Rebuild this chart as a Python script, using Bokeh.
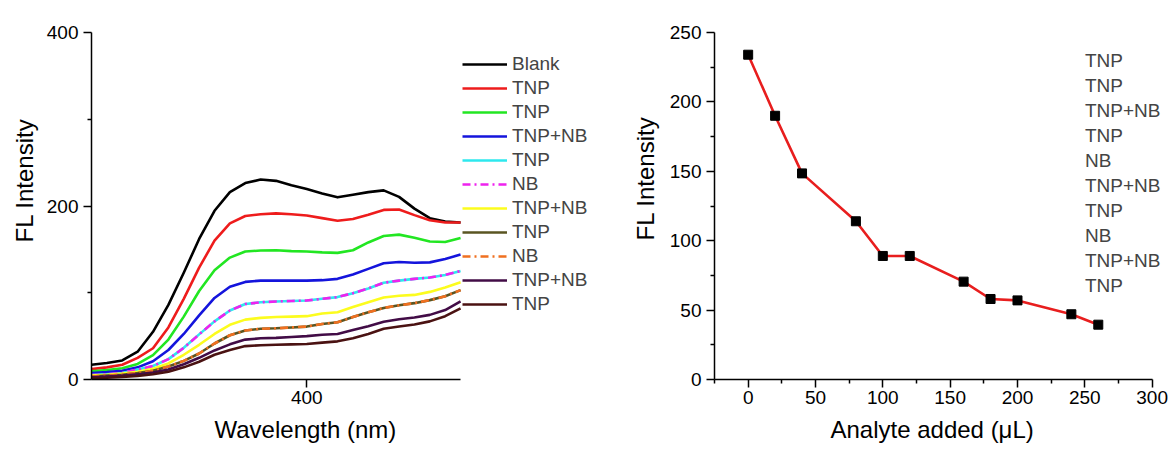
from bokeh.plotting import figure
from bokeh.models import Range1d, FixedTicker, Legend, LegendItem, Title
from bokeh.layouts import row
from bokeh.embed import file_html
from bokeh.resources import INLINE

# ---------------- data: left panel (spectra) ----------------
wavelength = [330, 335, 340, 345, 350, 355, 360, 365, 370, 375, 380, 385, 390,
              395, 400, 405, 410, 415, 420, 425, 430, 435, 440, 445, 450]
blank = [17, 19, 22, 32, 55, 86, 123, 162, 194.5, 216, 226.5, 230.5, 229, 224, 219.5,
         214.5, 210, 213, 216, 218, 210.5, 197, 186, 182, 181]
tnp_1 = [12, 14, 17, 25, 36, 60, 93, 129, 160, 180, 188.5, 190.5, 191.5, 190.5, 189,
         186, 183, 185, 190, 195.5, 196, 189.5, 183.5, 181, 181]
tnp_2 = [9.5, 11, 13, 18, 28, 46, 72.5, 102, 126, 140.5, 147.5, 148.7, 149, 148, 147.5,
         146.5, 146, 149, 158, 165.5, 167, 163.5, 159, 158.5, 163]
tnp_nb_1 = [7.5, 8.5, 10, 14, 21, 34, 52.5, 74, 94, 107, 112.5, 114, 114, 114, 114,
            114.5, 116, 121, 127.5, 134, 135.5, 134.5, 135, 139, 144]
tnp_3 = [5, 6, 7.5, 11.5, 15.5, 23.5, 36.5, 52, 67, 79.5, 87, 89, 90, 90.5, 91,
         93, 95, 99.5, 105, 111.5, 114, 116, 117.5, 120.5, 125]
nb_1 = [5, 6, 7.5, 11.5, 15.5, 23.5, 36.5, 52, 67, 79.5, 87, 89, 90, 90.5, 91,
        93, 95, 99.5, 105, 111.5, 114, 116, 117.5, 120.5, 125]
tnp_nb_2 = [4.5, 5.5, 7, 9, 12.5, 18.5, 28.5, 40, 52.5, 63, 69, 71, 72, 72.5, 73,
            76, 77.5, 83.5, 89, 94.5, 96.5, 97.5, 101, 106, 112]
tnp_4 = [3.5, 4.5, 5.5, 7.5, 10, 15, 21.5, 30, 41.5, 51, 56.5, 58.5, 59, 60, 61,
         64, 66, 72, 77.5, 82.5, 85.5, 88, 91.5, 96, 103]
nb_2 = [3.5, 4.5, 5.5, 7.5, 10, 15, 21.5, 30, 41.5, 51, 56.5, 58.5, 59, 60, 61,
        64, 66, 72, 77.5, 82.5, 85.5, 88, 91.5, 96, 103]
tnp_nb_3 = [2.5, 3.5, 4.5, 6, 8, 11.5, 17.5, 25, 33.5, 40.5, 46, 47.5, 48, 49, 50,
            51.5, 52.5, 57, 61.5, 66.5, 69.5, 71.5, 74.5, 80, 90]
tnp_5 = [1.5, 2, 3, 4, 6, 9, 14, 20.5, 28.5, 34, 38.5, 39.5, 40, 40.5, 41,
         42.5, 44, 47.5, 52.5, 58.5, 61, 63.5, 67, 73, 82]

spectra = [blank, tnp_1, tnp_2, tnp_nb_1, tnp_3, nb_1, tnp_nb_2, tnp_4, nb_2, tnp_nb_3, tnp_5]
spectra_labels = ["Blank", "TNP", "TNP", "TNP+NB", "TNP", "NB", "TNP+NB", "TNP", "NB", "TNP+NB", "TNP"]
spectra_colors = ["#000000", "#ee1c1c", "#22e622", "#1414dc", "#2ee8ee", "#ee22ee",
                  "#fcfc1e", "#5a5522", "#f07020", "#420c46", "#4a1212"]
spectra_dash = ["solid", "solid", "solid", "solid", "solid", "8 4 2 4",
                "solid", "solid", "8 4 2 4", "solid", "solid"]

# ---------------- data: right panel ----------------
analyte_added = [0, 20, 40, 80, 100, 120, 160, 180, 200, 240, 260]
fl_intensity = [234, 190, 148.5, 114, 89, 89, 70.5, 58, 57, 47, 39.5]
right_labels = ["TNP", "TNP", "TNP+NB", "TNP", "NB", "TNP+NB", "TNP", "NB", "TNP+NB", "TNP"]

FONT = "Liberation Sans"


def style_axes(p):
    p.outline_line_color = None
    p.grid.visible = False
    p.background_fill_color = "white"
    p.border_fill_color = "white"
    for ax in p.axis:
        ax.axis_line_width = 1.5
        ax.axis_line_color = "black"
        ax.major_tick_line_width = 1.5
        ax.minor_tick_line_width = 1.5
        ax.major_tick_in = 0
        ax.major_tick_out = 8
        ax.minor_tick_in = 0
        ax.minor_tick_out = 4
        ax.major_label_text_font = FONT
        ax.major_label_text_font_size = "19px"
        ax.major_label_text_color = "black"
    p.xaxis.major_label_standoff = 3
    p.yaxis.major_label_standoff = 5


def axis_title(text, offset, standoff):
    return Title(text=text, align="left", offset=offset, text_font=FONT,
                 text_font_size="24px", text_font_style="normal", text_color="black",
                 standoff=standoff)


# ---------------- left figure ----------------
p1 = figure(width=600, height=450, output_backend="svg", toolbar_location=None,
            x_range=Range1d(330, 495.5), y_range=Range1d(0, 400),
            min_border_left=91, min_border_right=0, min_border_top=32, min_border_bottom=71)
style_axes(p1)
p1.xaxis.ticker = FixedTicker(ticks=[400], minor_ticks=[])
p1.xaxis.bounds = (330, 450)
p1.yaxis.ticker = FixedTicker(ticks=[0, 200, 400], minor_ticks=[100, 300])

renderers = []
for ys, col, dash in zip(spectra, spectra_colors, spectra_dash):
    r = p1.line(wavelength, ys, line_color=col, line_width=2.6, line_dash=dash,
                line_join="round")
    renderers.append(r)

leg1 = Legend(items=[LegendItem(label=l, renderers=[r]) for l, r in zip(spectra_labels, renderers)],
              location=(371, 64), glyph_width=45, glyph_height=22, label_height=22,
              spacing=2, padding=4, margin=0, label_standoff=5,
              label_text_font=FONT, label_text_font_size="19px",
              border_line_color=None, background_fill_alpha=0)
p1.add_layout(leg1)
p1.add_layout(axis_title("Wavelength (nm)", 123, 15), "below")
p1.add_layout(axis_title("FL Intensity", 137, 11), "left")

# ---------------- right figure ----------------
p2 = figure(width=574, height=450, output_backend="svg", toolbar_location=None,
            x_range=Range1d(-25, 316.6), y_range=Range1d(0, 250),
            min_border_left=114, min_border_right=0, min_border_top=24, min_border_bottom=71)
style_axes(p2)
p2.xaxis.ticker = FixedTicker(ticks=[0, 50, 100, 150, 200, 250, 300],
                              minor_ticks=[-25, 25, 75, 125, 175, 225, 275])
p2.xaxis.bounds = (-25, 300)
p2.yaxis.ticker = FixedTicker(ticks=[0, 50, 100, 150, 200, 250],
                              minor_ticks=[25, 75, 125, 175, 225])

p2.line(analyte_added, fl_intensity, line_color="#e81e1e", line_width=2.6, line_join="round")
p2.scatter(analyte_added, fl_intensity, marker="square", size=9, fill_color="black",
           line_color="black")
dummy = p2.line(x=[0], y=[0], line_alpha=0)

leg2 = Legend(items=[LegendItem(label=l, renderers=[dummy]) for l in right_labels],
              location=(371, 82), glyph_width=0, glyph_height=22, label_height=22,
              spacing=3, padding=4, margin=0, label_standoff=0,
              label_text_font=FONT, label_text_font_size="19px",
              border_line_color=None, background_fill_alpha=0)
p2.add_layout(leg2)
p2.add_layout(axis_title("Analyte added (μL)", 116, 15), "below")
p2.add_layout(axis_title("FL Intensity", 139, 15), "left")

layout = row(p1, p2)
open("out.html", "w").write(file_html(layout, INLINE))
